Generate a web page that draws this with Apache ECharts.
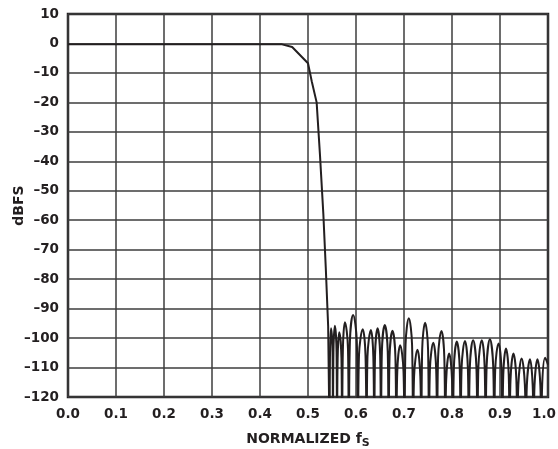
<!DOCTYPE html>
<html>
<head>
<meta charset="utf-8">
<script src="https://cdn.jsdelivr.net/npm/echarts@6/dist/echarts.min.js"></script>
<style>
html,body{margin:0;padding:0;background:#fff;}
#c{width:558px;height:449px;}
</style>
</head>
<body>
<div id="c"></div>
<script>
// Passband + transition band (piecewise)
const passFreq = [0.0, 0.446, 0.467, 0.500, 0.508, 0.518, 0.525, 0.532, 0.537, 0.542, 0.545];
const passDb   = [-0.3, -0.3, -1.2, -6.7, -13, -20, -38, -58, -76, -96, -135];

// Stopband lobes: null, left flank, peak, right flank, ... (nulls fall below the -120 floor)
const stopFreq = [
  0.545, 0.5458, 0.548, 0.5512,
  0.552, 0.5530, 0.556, 0.5595,
  0.5605, 0.5618, 0.565, 0.5697,
  0.571, 0.5727, 0.577, 0.5833,
  0.585, 0.5873, 0.594, 0.6017,
  0.604, 0.6062, 0.614, 0.6198,
  0.622, 0.6239, 0.631, 0.6361,
  0.638, 0.6397, 0.645, 0.6503,
  0.652, 0.6539, 0.660, 0.6661,
  0.668, 0.6699, 0.676, 0.6821,
  0.684, 0.6860, 0.692, 0.6990,
  0.701, 0.7032, 0.710, 0.7168,
  0.719, 0.7210, 0.728, 0.7340,
  0.736, 0.7379, 0.744, 0.7501,
  0.752, 0.7540, 0.761, 0.7670,
  0.769, 0.7710, 0.778, 0.7840,
  0.786, 0.7879, 0.794, 0.8001,
  0.802, 0.8039, 0.810, 0.8161,
  0.818, 0.8200, 0.827, 0.8330,
  0.835, 0.8372, 0.844, 0.8508,
  0.853, 0.8550, 0.862, 0.8680,
  0.870, 0.8722, 0.879, 0.8858,
  0.888, 0.8900, 0.897, 0.9030,
  0.905, 0.9068, 0.9125, 0.9182,
  0.920, 0.9219, 0.928, 0.9341,
  0.936, 0.9382, 0.945, 0.9518,
  0.954, 0.9559, 0.9625, 0.9681,
  0.970, 0.9719, 0.978, 0.9841,
  0.986, 0.9879, 0.994, 1.0
];
const stopDb = [
  -135, -105.7, -96.7, -105.7,
  -135, -104.8, -95.8, -104.8,
  -135, -107.0, -98.0, -107.0,
  -135, -103.6, -94.6, -103.6,
  -135, -101.2, -92.2, -101.2,
  -135, -106.0, -97.0, -106.0,
  -135, -106.3, -97.3, -106.3,
  -135, -105.7, -96.7, -105.7,
  -135, -104.6, -95.6, -104.6,
  -135, -106.5, -97.5, -106.5,
  -135, -111.4, -102.4, -111.4,
  -135, -102.3, -93.3, -102.3,
  -135, -113.0, -104.0, -113.0,
  -135, -103.8, -94.8, -103.8,
  -135, -110.6, -101.6, -110.6,
  -135, -106.6, -97.6, -106.6,
  -135, -114.2, -105.2, -114.2,
  -135, -110.2, -101.2, -110.2,
  -135, -110.0, -101.0, -110.0,
  -135, -109.7, -100.7, -109.7,
  -135, -109.7, -100.7, -109.7,
  -135, -109.4, -100.4, -109.4,
  -135, -110.8, -101.8, -110.8,
  -135, -112.5, -103.5, -112.5,
  -135, -114.2, -105.2, -114.2,
  -135, -115.9, -106.9, -115.9,
  -135, -116.2, -107.2, -116.2,
  -135, -116.2, -107.2, -116.2,
  -135, -115.7, -106.7, -109.0
];

const xTicks = ['0.0','0.1','0.2','0.3','0.4','0.5','0.6','0.7','0.8','0.9','1.0'];

const passData = passFreq.map((f, i) => [f, passDb[i]]);
const stopData = stopFreq.map((f, i) => [f, stopDb[i]]);

const chart = echarts.init(document.getElementById('c'), null, {renderer: 'canvas'});
const labelFont = {fontFamily: 'DejaVu Sans, sans-serif', fontWeight: 'bold', fontSize: 13.5, color: '#231f20'};
chart.setOption({
  animation: false,
  backgroundColor: '#fff',
  grid: {left: 68, right: 10, top: 14, bottom: 52, show: true, outerBoundsMode: 'none', containLabel: false,
         borderColor: '#231f20', borderWidth: 2.5, backgroundColor: 'transparent'},
  xAxis: {
    type: 'value', min: 0, max: 1, interval: 0.1,
    name: 'NORMALIZED f{s|S}', nameLocation: 'middle', nameGap: 32, nameMoveOverlap: false,
    nameTextStyle: Object.assign({}, labelFont, {fontSize: 14, rich: {s: Object.assign({}, labelFont, {fontSize: 11, padding: [9, 0, 0, 0]})}}),
    axisLine: {show: false}, axisTick: {show: false},
    axisLabel: Object.assign({}, labelFont, {
      margin: 10,
      formatter: v => { const i = Math.round(v * 10); return i === 10 ? '{r|' + xTicks[i] + '}' : xTicks[i]; },
      rich: {r: Object.assign({}, labelFont, {padding: [0, 8, 0, 0]})}
    }),
    splitLine: {show: true, lineStyle: {color: '#3c3c3c', width: 1.5}}
  },
  yAxis: {
    type: 'value', min: -120, max: 10, interval: 10,
    name: 'dBFS', nameLocation: 'middle', nameGap: 42, nameRotate: 90, nameMoveOverlap: false,
    nameTextStyle: Object.assign({}, labelFont, {fontSize: 14}),
    axisLine: {show: false}, axisTick: {show: false},
    axisLabel: Object.assign({}, labelFont, {margin: 9, formatter: v => (v < 0 ? '\u2013' + Math.abs(v) : String(v))}),
    splitLine: {show: true, lineStyle: {color: '#3c3c3c', width: 1.5}}
  },
  series: [
    {type: 'line', data: passData, showSymbol: false, symbol: 'none', clip: true, lineStyle: {color: '#231f20', width: 2}},
    {type: 'line', data: stopData, showSymbol: false, symbol: 'none', smooth: 0.4, clip: true, lineStyle: {color: '#231f20', width: 2}}
  ]
});
</script>
</body>
</html>
